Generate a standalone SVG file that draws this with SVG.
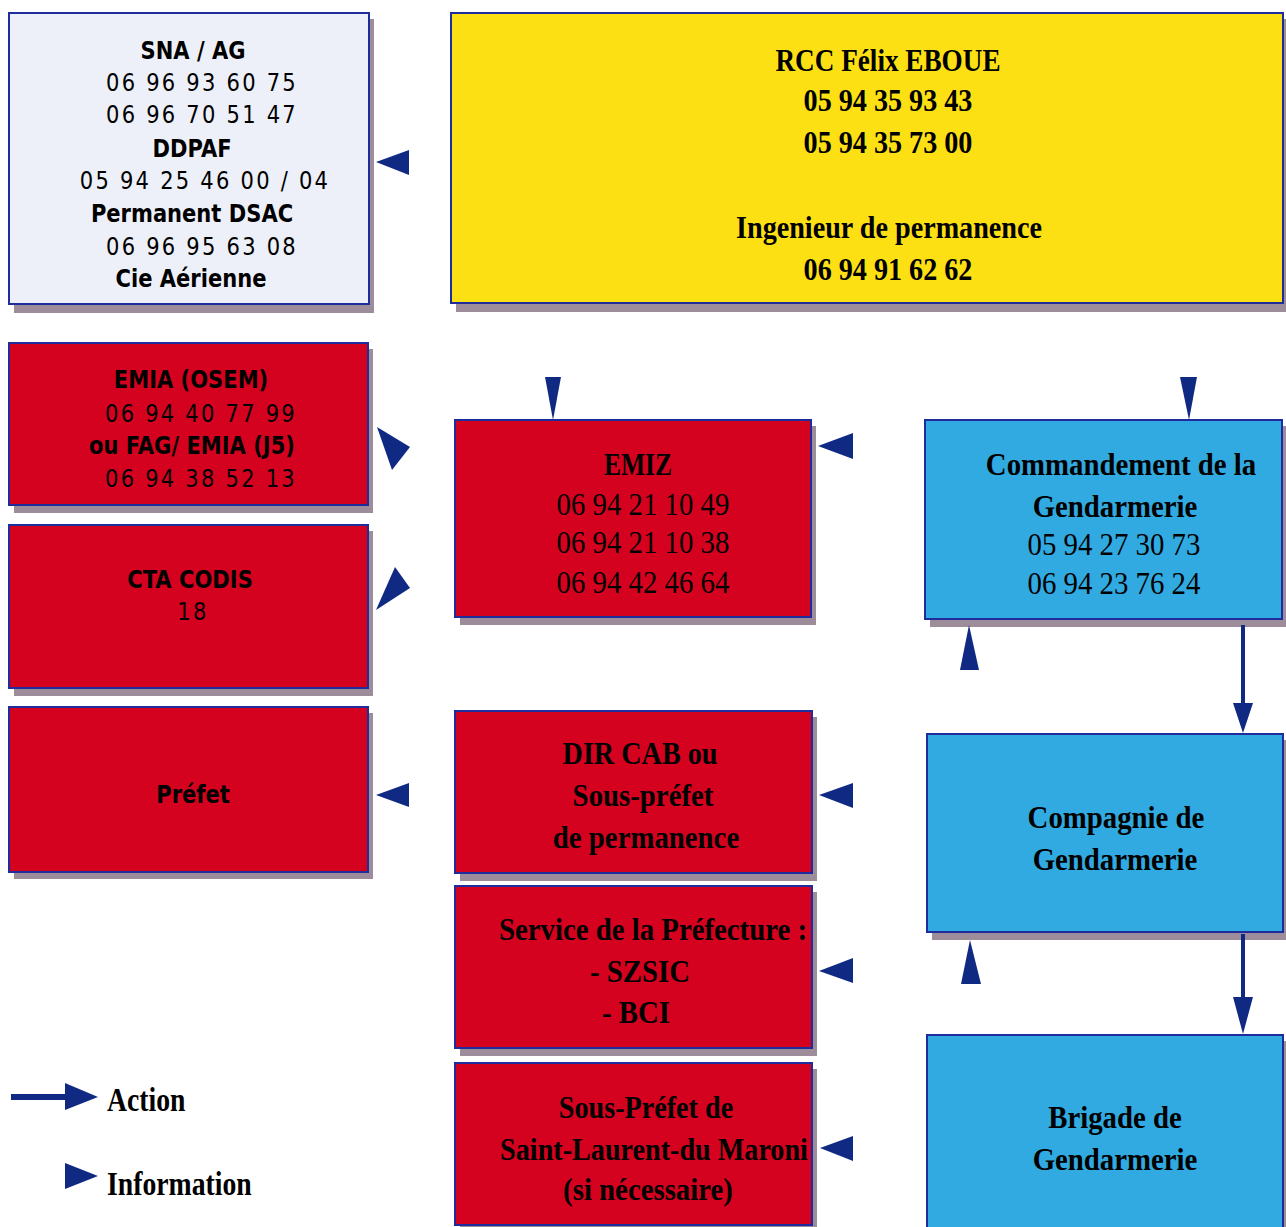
<svg xmlns="http://www.w3.org/2000/svg" width="1286" height="1227" viewBox="0 0 1286 1227">
<style>
.bx{stroke:#1f2c9c;stroke-width:2}
.sh{fill:#9d8d9b}
.lt{fill:#eef0f9}
.ye{fill:#fde014}
.rd{fill:#d5021f}
.bl{fill:#30aae1}
.ar{fill:#102a84}
.sv{font-family:"Liberation Serif","Times New Roman",serif;font-size:32px;font-weight:bold;fill:#000;text-anchor:middle}
.sr{font-family:"Liberation Serif","Times New Roman",serif;font-size:32px;font-weight:normal;fill:#000;text-anchor:middle}
.sb{font-family:"DejaVu Sans",Verdana,sans-serif;font-size:24.5px;font-weight:bold;fill:#000;text-anchor:middle}
.sn{font-family:"DejaVu Sans",Verdana,sans-serif;font-size:24.5px;font-weight:normal;fill:#000;text-anchor:middle;letter-spacing:2.6px}
.lg{font-family:"Liberation Serif","Times New Roman",serif;font-size:33px;font-weight:bold;fill:#000;text-anchor:start}
</style>

<g id="sna">
<rect class="sh" x="14" y="19" width="360" height="294"/>
<rect class="bx lt" x="9" y="13" width="360" height="291"/>
<text class="sb" transform="translate(193 0) scale(0.86 1)" x="0" y="59">SNA  / AG</text>
<text class="sn" transform="translate(202 0) scale(0.86 1)" x="0" y="91">06 96 93 60 75</text>
<text class="sn" transform="translate(202 0) scale(0.86 1)" x="0" y="123">06 96 70 51 47</text>
<text class="sb" transform="translate(192 0) scale(0.86 1)" x="0" y="157">DDPAF</text>
<text class="sn" transform="translate(205 0) scale(0.86 1)" x="0" y="189">05 94 25 46 00 / 04</text>
<text class="sb" transform="translate(192 0) scale(0.86 1)" x="0" y="222">Permanent DSAC</text>
<text class="sn" transform="translate(202 0) scale(0.86 1)" x="0" y="255">06 96 95 63 08</text>
<text class="sb" transform="translate(191 0) scale(0.86 1)" x="0" y="287">Cie Aérienne</text>
</g>

<g id="rcc">
<rect class="sh" x="456" y="19" width="832" height="293"/>
<rect class="bx ye" x="451" y="13" width="832" height="290"/>
<text class="sv" transform="translate(888 0) scale(0.85 1)" x="0" y="71">RCC Félix EBOUE</text>
<text class="sv" transform="translate(888 0) scale(0.88 1)" x="0" y="111">05 94 35 93 43</text>
<text class="sv" transform="translate(888 0) scale(0.88 1)" x="0" y="153">05 94 35 73 00</text>
<text class="sv" transform="translate(889 0) scale(0.88 1)" x="0" y="238">Ingenieur de permanence</text>
<text class="sv" transform="translate(888 0) scale(0.88 1)" x="0" y="280">06 94 91 62 62</text>
</g>

<g id="emia">
<rect class="sh" x="14" y="349" width="359" height="164"/>
<rect class="bx rd" x="9" y="343" width="359" height="162"/>
<text class="sb" transform="translate(191 0) scale(0.86 1)" x="0" y="388">EMIA  (OSEM)</text>
<text class="sn" transform="translate(201 0) scale(0.86 1)" x="0" y="422">06 94 40 77 99</text>
<text class="sb" transform="translate(192 0) scale(0.86 1)" x="0" y="454">ou FAG/ EMIA  (J5)</text>
<text class="sn" transform="translate(201 0) scale(0.86 1)" x="0" y="487">06 94 38 52 13</text>
</g>

<g id="cta">
<rect class="sh" x="14" y="531" width="359" height="165"/>
<rect class="bx rd" x="9" y="525" width="359" height="163"/>
<text class="sb" transform="translate(190 0) scale(0.86 1)" x="0" y="588">CTA CODIS</text>
<text class="sn" transform="translate(193 0) scale(0.86 1)" x="0" y="620">18</text>
</g>

<g id="prefet">
<rect class="sh" x="14" y="713" width="359" height="166"/>
<rect class="bx rd" x="9" y="707" width="359" height="165"/>
<text class="sb" transform="translate(193 0) scale(0.86 1)" x="0" y="803">Préfet</text>
</g>

<g id="emiz">
<rect class="sh" x="460" y="426" width="356" height="199"/>
<rect class="bx rd" x="455" y="420" width="356" height="197"/>
<text class="sv" transform="translate(638 0) scale(0.8 1)" x="0" y="475">EMIZ</text>
<text class="sr" transform="translate(643 0) scale(0.9 1)" x="0" y="515">06 94 21 10 49</text>
<text class="sr" transform="translate(643 0) scale(0.9 1)" x="0" y="553">06 94 21 10 38</text>
<text class="sr" transform="translate(643 0) scale(0.9 1)" x="0" y="593">06 94 42 46 64</text>
</g>

<g id="commandement">
<rect class="sh" x="930" y="426" width="357" height="201"/>
<rect class="bx bl" x="925" y="420" width="357" height="199"/>
<text class="sv" transform="translate(1121 0) scale(0.9 1)" x="0" y="475">Commandement de la</text>
<text class="sv" transform="translate(1115 0) scale(0.9 1)" x="0" y="517">Gendarmerie</text>
<text class="sr" transform="translate(1114 0) scale(0.9 1)" x="0" y="555">05 94 27 30 73</text>
<text class="sr" transform="translate(1114 0) scale(0.9 1)" x="0" y="594">06 94 23 76 24</text>
</g>

<g id="dircab">
<rect class="sh" x="460" y="717" width="357" height="164"/>
<rect class="bx rd" x="455" y="711" width="357" height="162"/>
<text class="sv" transform="translate(640 0) scale(0.88 1)" x="0" y="764">DIR CAB ou</text>
<text class="sv" transform="translate(643 0) scale(0.9 1)" x="0" y="806">Sous-préfet</text>
<text class="sv" transform="translate(646 0) scale(0.9 1)" x="0" y="848">de permanence</text>
</g>

<g id="service">
<rect class="sh" x="460" y="892" width="357" height="164"/>
<rect class="bx rd" x="455" y="886" width="357" height="162"/>
<text class="sv" transform="translate(653 0) scale(0.9 1)" x="0" y="940">Service de la Préfecture :</text>
<text class="sv" transform="translate(640 0) scale(0.9 1)" x="0" y="982">- SZSIC</text>
<text class="sv" transform="translate(636 0) scale(0.9 1)" x="0" y="1023">- BCI</text>
</g>

<g id="souspref">
<rect class="sh" x="460" y="1069" width="357" height="164"/>
<rect class="bx rd" x="455" y="1063" width="357" height="162"/>
<text class="sv" transform="translate(646 0) scale(0.88 1)" x="0" y="1118">Sous-Préfet de</text>
<text class="sv" transform="translate(654 0) scale(0.88 1)" x="0" y="1160">Saint-Laurent-du Maroni</text>
<text class="sv" transform="translate(648 0) scale(0.9 1)" x="0" y="1200">(si nécessaire)</text>
</g>

<g id="compagnie">
<rect class="sh" x="932" y="740" width="356" height="200"/>
<rect class="bx bl" x="927" y="734" width="356" height="198"/>
<text class="sv" transform="translate(1116 0) scale(0.9 1)" x="0" y="828">Compagnie de</text>
<text class="sv" transform="translate(1115 0) scale(0.9 1)" x="0" y="870">Gendarmerie</text>
</g>

<g id="brigade">
<rect class="sh" x="932" y="1041" width="356" height="205"/>
<rect class="bx bl" x="927" y="1035" width="356" height="205"/>
<text class="sv" transform="translate(1115 0) scale(0.9 1)" x="0" y="1128">Brigade de</text>
<text class="sv" transform="translate(1115 0) scale(0.9 1)" x="0" y="1170">Gendarmerie</text>
</g>

<g id="connectors">
<polygon class="ar" points="376,162 409,150 409,175"/>
<polygon class="ar" points="377,427 410,447 392,470"/>
<polygon class="ar" points="376,610 410,588 395,567"/>
<polygon class="ar" points="376,795 409,783 409,807"/>
<polygon class="ar" points="545,377 561,377 553,420"/>
<polygon class="ar" points="818,446 853,433 853,459"/>
<polygon class="ar" points="1180,377 1197,377 1189,420"/>
<polygon class="ar" points="969,625 960,670 979,670"/>
<polygon class="ar" points="819,795 853,783 853,808"/>
<polygon class="ar" points="819,971 853,958 853,983"/>
<polygon class="ar" points="970,940 961,984 981,984"/>
<polygon class="ar" points="820,1148 853,1136 853,1161"/>
<line x1="1243" y1="625" x2="1243" y2="706" stroke="#102a84" stroke-width="4"/>
<polygon class="ar" points="1233,703 1253,703 1243,733"/>
<line x1="1243" y1="934" x2="1243" y2="1000" stroke="#102a84" stroke-width="4"/>
<polygon class="ar" points="1233,997 1253,997 1243,1034"/>
</g>

<g id="legend">
<line x1="11" y1="1097" x2="67" y2="1097" stroke="#102a84" stroke-width="6"/>
<polygon class="ar" points="65,1083 98,1097 65,1110"/>
<text class="lg" transform="translate(107 0) scale(0.84 1)" x="0" y="1111">Action</text>
<polygon class="ar" points="65,1163 98,1176 65,1189"/>
<text class="lg" transform="translate(107 0) scale(0.84 1)" x="0" y="1195">Information</text>
</g>
</svg>
